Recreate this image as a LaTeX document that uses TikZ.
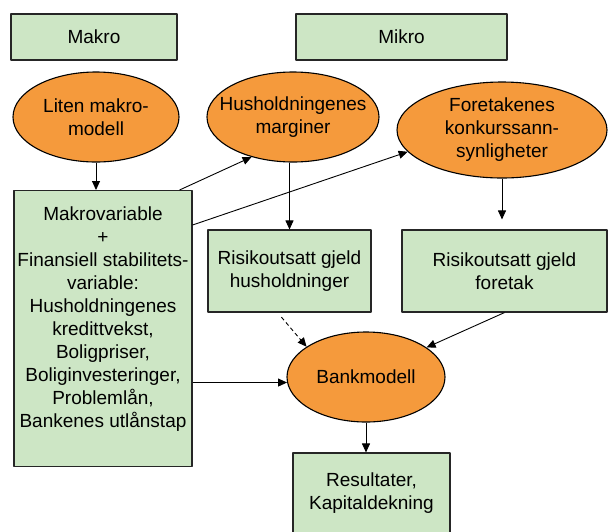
\documentclass[tikz,border=0pt]{standalone}
\usepackage{fontspec}
\setmainfont{Liberation Sans}
\usetikzlibrary{shapes.geometric,arrows.meta}
\definecolor{boxgreen}{RGB}{205,230,197}
\definecolor{ellorange}{RGB}{245,154,60}
\begin{document}
\begin{tikzpicture}[x=1pt, y=-1pt, line join=round, >={Triangle[length=9pt,width=8pt]},
  font=\fontsize{19}{23}\selectfont,
  greenbox/.style={draw=black!85, line width=1.1pt, fill=boxgreen, rectangle, inner sep=0pt, align=center},
  orangeell/.style={draw=black, line width=1.1pt, fill=ellorange, ellipse, inner xsep=-15pt, inner ysep=-5pt, align=center},
  link/.style={->, line width=0.9pt}]
	\useasboundingbox (0,0) rectangle (608,531);
	\node[greenbox, minimum width=166, minimum height=46] (makro) at (94,37) {Makro};
	\node[greenbox, minimum width=211, minimum height=46] (mikro) at (401.5,37) {Mikro};
	\node[orangeell, minimum width=166, minimum height=90] (liten) at (96,117) {Liten makro-\\modell};
	\node[orangeell, minimum width=172, minimum height=90] (husmarg) at (293,117) {Husholdningenes\\marginer};
	\node[orangeell, minimum width=210, minimum height=96] (foremarg) at (502,130) {Foretakenes\\konkurssann-\\synligheter};
	\node[greenbox, anchor=north] (makrovar) at (103,190) {\parbox[c][276pt][t]{178pt}{\centering\vspace*{16pt}Makrovariable\\+\\Finansiell stabilitets-\\variable:\\Husholdningenes\\kredittvekst,\\Boligpriser,\\Boliginvesteringer,\\Problemlån,\\Bankenes utlånstap}};
	\node[greenbox, minimum width=163, minimum height=82] (husgjeld) at (289.5,271) {Risikoutsatt gjeld\\husholdninger};
	\node[greenbox, minimum width=205, minimum height=82] (foregjeld) at (504.5,271) {Risikoutsatt gjeld\\foretak};
	\node[orangeell, minimum width=158, minimum height=90] (bank) at (366,377) {Bankmodell};
	\node[greenbox, minimum width=157, minimum height=80] (result) at (371.5,493) {Resultater,\\Kapitaldekning};
	% piler
	\draw[link] (liten.south) -- (liten.south |- makrovar.north);
	\draw[link] ([xshift=-13pt]makrovar.north east) -- (husmarg.224);
	\draw[link] ([yshift=-35pt]makrovar.north east) -- (foremarg.193);
	\draw[link] (husgjeld.north |- husmarg.south) -- (husgjeld.north);
	\draw[link, shorten >=10pt] (foremarg.south) -- (foremarg.south |- foregjeld.north);
	\draw[link, dash pattern=on 4pt off 3pt, shorten <=6pt] ([xshift=-12pt]husgjeld.south) -- (bank.153);
	\draw[link] (foregjeld.south) -- (bank.26);
	\draw[link] (makrovar.east |- bank.184) -- (bank.184);
	\draw[link] (bank.south) -- (bank.south |- result.north);
\end{tikzpicture}
\end{document}
